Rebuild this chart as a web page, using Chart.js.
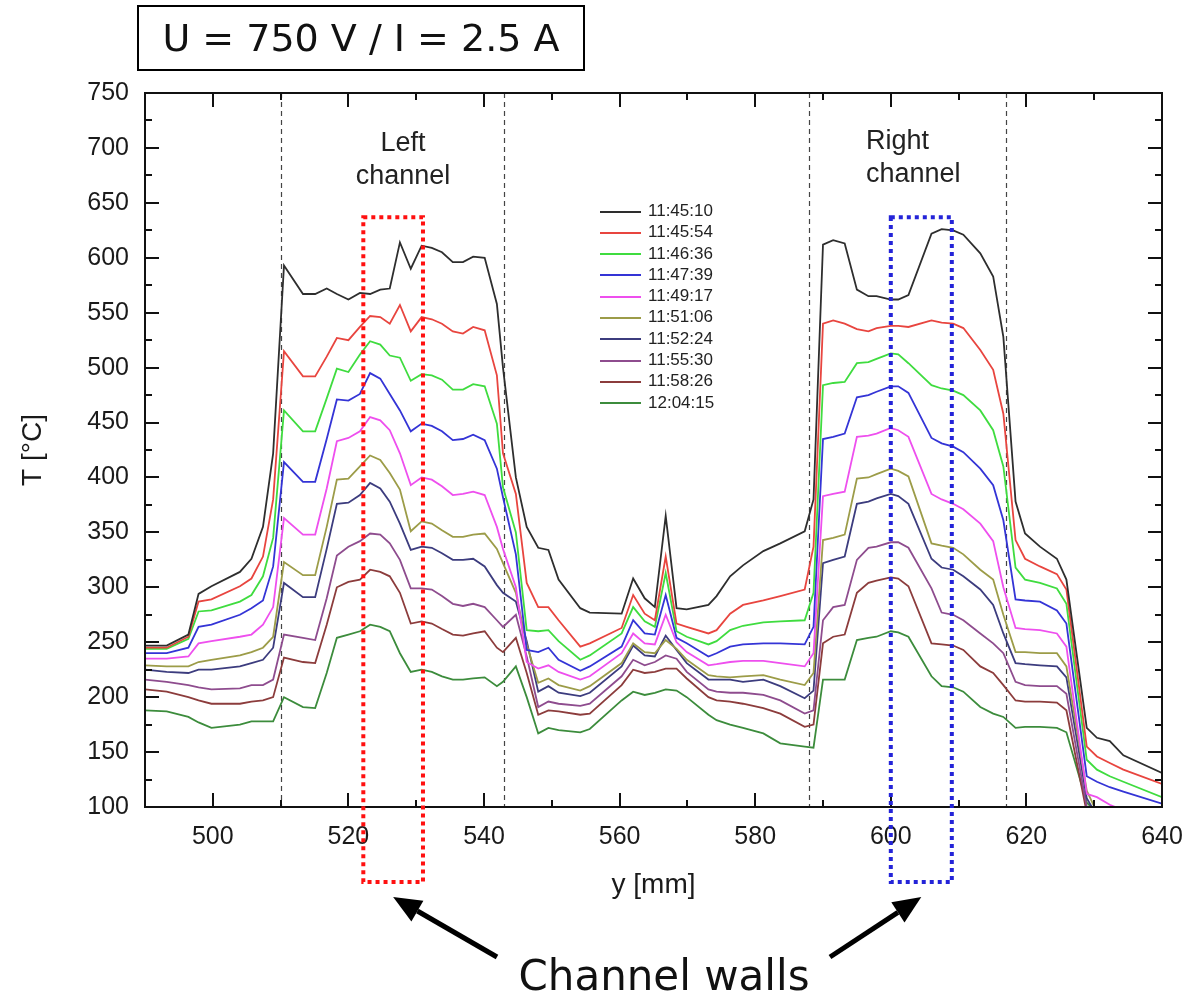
<!DOCTYPE html>
<html>
<head>
<meta charset="utf-8">
<script src="https://cdn.jsdelivr.net/npm/chart.js@4.4.1/dist/chart.umd.min.js"></script>
<style>
  body { margin: 0; background: #fff; }
  #wrap { position: relative; width: 1188px; height: 999px; }
  #box { position: absolute; left: 137px; top: 5px; width: 448px; height: 66px; box-sizing: border-box;
         border: 2px solid #000; font: 38px "DejaVu Sans", sans-serif; color: #111;
         display: flex; align-items: center; justify-content: center; white-space: pre; }
  .note { position: absolute; font: 27px "Liberation Sans", Arial, sans-serif; line-height: 33px; color: #222; }
  #legend { position: absolute; left: 600px; top: 200px; font: 17px "Liberation Sans", Arial, sans-serif; color: #222; }
  #legend div { height: 21.3px; line-height: 21.3px; white-space: nowrap; }
  #legend span.ln { display: inline-block; width: 41px; vertical-align: middle; margin-right: 7px; }
  #walls { position: absolute; left: 0; width: 1188px; top: 950px; padding-left: 140px; box-sizing: border-box;
           text-align: center; font: 42px "DejaVu Sans", sans-serif; line-height: 52px; color: #111; }
</style>
</head>
<body>
<div id="wrap">
  <canvas id="chart" width="1188" height="999"></canvas>
  <div id="box">U = 750 V / I = 2.5 A</div>
  <div class="note" style="left:303px;top:126px;width:200px;text-align:center">Left<br>channel</div>
  <div class="note" style="left:866px;top:124px">Right<br>channel</div>
  <div id="legend"></div>
  <div id="walls">Channel walls</div>
</div>
<script>
// measurement times (legend)
const times = ["11:45:10", "11:45:54", "11:46:36", "11:47:39", "11:49:17",
               "11:51:06", "11:52:24", "11:55:30", "11:58:26", "12:04:15"];

// positions along y [mm]
const positions = [490, 493.2, 496.4, 497.9, 499.8, 504, 505.7, 507.4, 508.9, 510.5,
  513.3, 515.1, 516.8, 518.3, 520, 521.7, 523.2, 524.7, 526.1, 527.6,
  529.2, 530.8, 532.3, 533.8, 535.4, 536.9, 538.4, 540.1, 541.9, 542.8,
  544.7, 546.3, 548, 549.5, 551, 554.2, 555.6, 560.3, 562, 563.7,
  565.2, 566.8, 568.4, 569.9, 573.1, 574.3, 576.3, 578.2, 581.2, 583.7,
  587.3, 588.6, 590, 591.5, 593.2, 595, 596.7, 597.9, 600, 601.1,
  602.6, 606, 607.5, 609.2, 610.7, 613.2, 615.1, 616.6, 618.4, 619.8,
  622, 624.5, 625.9, 628.9, 630.4, 632.3, 634.3, 640];

// temperatures T [°C], one array per time
const t114510 = [247, 247, 257, 294, 301, 314, 326, 355, 422, 593,
  567, 567, 572, 567, 562, 568, 567, 571, 572, 614,
  590, 611, 609, 605, 596, 596, 601, 600, 558, 500,
  400, 355, 336, 334, 307, 281, 277, 276, 308, 290,
  282, 365, 281, 280, 284, 292, 310, 320, 333, 340,
  351, 380, 612, 616, 613, 571, 565, 565, 562, 562,
  566, 622, 626, 625, 621, 604, 583, 528, 378, 349,
  337, 326, 307, 172, 163, 160, 147, 131];
const t114554 = [245, 245, 255, 287, 289, 301, 308, 328, 380, 515,
  492, 492, 510, 527, 525, 537, 547, 546, 540, 557,
  533, 546, 544, 540, 533, 531, 537, 534, 493, 422,
  385, 304, 282, 282, 270, 246, 249, 263, 293, 276,
  270, 328, 267, 264, 258, 261, 276, 284, 288, 292,
  298, 337, 540, 543, 540, 535, 533, 536, 538, 538,
  537, 543, 541, 540, 536, 516, 498, 458, 343, 326,
  319, 312, 298, 155, 146, 140, 134, 121];
const t114636 = [244, 244, 253, 278, 279, 287, 293, 310, 345, 461,
  442, 442, 472, 499, 496, 512, 524, 521, 511, 509,
  488, 494, 493, 489, 480, 480, 485, 483, 449, 391,
  350, 261, 260, 261, 251, 234, 238, 258, 282, 269,
  264, 313, 260, 255, 248, 251, 261, 265, 268, 269,
  270, 295, 484, 486, 487, 504, 505, 508, 513, 512,
  504, 484, 481, 479, 475, 461, 443, 410, 318, 307,
  304, 299, 285, 143, 134, 128, 123, 109];
const t114739 = [240, 240, 245, 264, 266, 275, 281, 288, 319, 414,
  396, 396, 435, 471, 470, 476, 495, 490, 476, 461,
  442, 449, 447, 442, 434, 435, 439, 434, 408, 382,
  330, 243, 241, 245, 234, 224, 228, 246, 270, 258,
  257, 293, 254, 249, 237, 240, 246, 248, 249, 249,
  248, 264, 435, 437, 440, 473, 475, 478, 483, 483,
  477, 436, 431, 428, 423, 408, 393, 361, 289, 288,
  287, 279, 267, 128, 123, 118, 114, 103];
const t114917 = [235, 235, 237, 249, 251, 255, 257, 266, 282, 363,
  348, 348, 390, 433, 436, 442, 455, 452, 443, 422,
  393, 400, 398, 392, 384, 385, 387, 384, 355, 335,
  300, 232, 226, 229, 223, 216, 219, 240, 258, 249,
  248, 275, 250, 241, 229, 230, 232, 233, 233, 231,
  228, 240, 383, 385, 387, 437, 438, 440, 445, 443,
  437, 385, 380, 376, 371, 358, 342, 300, 263, 262,
  261, 258, 246, 112, 109, 102, 97, 90];
const t115106 = [229, 228, 228, 232, 234, 238, 241, 245, 255, 323,
  311, 311, 355, 398, 399, 410, 420, 416, 404, 389,
  351, 360, 358, 352, 346, 346, 348, 349, 335, 322,
  295, 248, 213, 217, 211, 206, 210, 231, 249, 241,
  240, 252, 244, 234, 220, 219, 218, 219, 220, 216,
  211, 222, 343, 345, 348, 399, 400, 403, 408, 406,
  401, 340, 338, 336, 330, 316, 307, 275, 241, 241,
  240, 240, 228, 115, 95, 88, 82, 75];
const t115224 = [225, 223, 222, 225, 225, 228, 231, 234, 245, 304,
  291, 291, 335, 376, 377, 384, 395, 390, 378, 358,
  334, 337, 336, 331, 325, 325, 326, 319, 302, 295,
  287, 251, 205, 210, 204, 201, 204, 228, 247, 238,
  237, 256, 243, 231, 216, 216, 216, 214, 216, 210,
  199, 206, 322, 325, 328, 376, 378, 381, 385, 383,
  376, 326, 318, 316, 310, 298, 284, 258, 231, 230,
  229, 228, 218, 108, 92, 88, 85, 80];
const t115530 = [216, 214, 211, 209, 207, 208, 211, 211, 216, 257,
  254, 252, 290, 329, 337, 342, 349, 348, 340, 325,
  299, 299, 298, 292, 285, 283, 285, 282, 270, 264,
  275, 237, 191, 196, 194, 192, 194, 219, 234, 229,
  232, 238, 235, 223, 207, 205, 204, 204, 202, 197,
  185, 188, 270, 282, 284, 325, 336, 337, 341, 341,
  336, 299, 277, 275, 270, 258, 249, 240, 214, 211,
  210, 210, 203, 100, 88, 84, 80, 75];
const t115826 = [207, 205, 200, 197, 194, 194, 196, 197, 200, 236,
  232, 231, 266, 300, 305, 307, 316, 314, 310, 295,
  267, 269, 267, 262, 257, 256, 258, 260, 245, 241,
  254, 222, 184, 188, 187, 184, 185, 211, 225, 222,
  223, 226, 226, 217, 200, 197, 196, 194, 190, 185,
  173, 175, 249, 255, 257, 295, 304, 306, 309, 308,
  301, 249, 248, 247, 243, 228, 222, 211, 197, 196,
  196, 195, 188, 95, 88, 84, 80, 75];
const t120415 = [188, 187, 182, 177, 172, 175, 178, 178, 178, 200,
  191, 190, 222, 254, 257, 260, 266, 264, 260, 240,
  223, 225, 223, 219, 216, 216, 217, 218, 210, 214,
  228, 200, 167, 172, 170, 168, 171, 197, 205, 202,
  204, 207, 206, 200, 184, 179, 175, 172, 167, 158,
  155, 154, 216, 216, 216, 252, 254, 255, 260, 259,
  255, 219, 210, 209, 205, 191, 185, 182, 172, 173,
  173, 172, 168, 104, 95, 90, 85, 80];

const series = [t114510, t114554, t114636, t114739, t114917,
                t115106, t115224, t115530, t115826, t120415];
const colors = ["#2e2e2e", "#e8453f", "#3fdc3f", "#3434d6", "#ee4fee",
                "#9c9c48", "#3c3c7e", "#8e4c8e", "#8c3c3c", "#3c8c3c"];

// channel wall positions [mm] and marked wall regions
const wallLines = [510, 543, 588, 617];
const wallBoxes = [
  { from: 522.2, to: 531, top: 637, bottom: 31.7, color: "#ff1010" },
  { from: 600, to: 609, top: 637, bottom: 31.7, color: "#2424d8" }
];
const arrowTails = [[497, 957], [830, 957]];

const extras = {
  id: "extras",
  beforeDatasetsDraw(chart) {
    const { ctx, chartArea: a, scales: { x } } = chart;
    ctx.save();
    ctx.strokeStyle = "#444";
    ctx.lineWidth = 1.2;
    ctx.setLineDash([5, 4]);
    wallLines.forEach(v => {
      const px = Math.round(x.getPixelForValue(v)) + 0.5;
      ctx.beginPath();
      ctx.moveTo(px, a.top);
      ctx.lineTo(px, a.bottom);
      ctx.stroke();
    });
    ctx.restore();
  },
  afterDatasetsDraw(chart) {
    const { ctx, chartArea: a, scales: { x, y } } = chart;
    ctx.save();
    // frame
    ctx.strokeStyle = "#111";
    ctx.lineWidth = 2;
    ctx.strokeRect(a.left, a.top, a.right - a.left, a.bottom - a.top);
    // inward ticks on all sides
    ctx.beginPath();
    x.ticks.forEach(t => {
      const px = Math.round(x.getPixelForValue(t.value));
      const len = t.value % 20 === 0 ? 14 : 7;
      ctx.moveTo(px, a.bottom); ctx.lineTo(px, a.bottom - len);
      ctx.moveTo(px, a.top); ctx.lineTo(px, a.top + len);
    });
    y.ticks.forEach(t => {
      const py = Math.round(y.getPixelForValue(t.value));
      const len = t.value % 50 === 0 ? 14 : 7;
      ctx.moveTo(a.left, py); ctx.lineTo(a.left + len, py);
      ctx.moveTo(a.right, py); ctx.lineTo(a.right - len, py);
    });
    ctx.stroke();

    // dotted boxes marking the channel walls
    ctx.lineWidth = 4;
    ctx.setLineDash([4, 4]);
    wallBoxes.forEach(b => {
      const x0 = x.getPixelForValue(b.from), x1 = x.getPixelForValue(b.to);
      const y0 = y.getPixelForValue(b.top), y1 = y.getPixelForValue(b.bottom);
      ctx.strokeStyle = b.color;
      ctx.strokeRect(x0, y0, x1 - x0, y1 - y0);
    });
    ctx.setLineDash([]);

    // arrows from the label to the boxes
    ctx.strokeStyle = "#000";
    ctx.fillStyle = "#000";
    wallBoxes.forEach((b, i) => {
      const tx = x.getPixelForValue((b.from + b.to) / 2);
      const ty = y.getPixelForValue(b.bottom) + 15;
      const [sx, sy] = arrowTails[i];
      const ang = Math.atan2(ty - sy, tx - sx);
      const hl = 28, hw = 12;
      const bx = tx - hl * Math.cos(ang), by = ty - hl * Math.sin(ang);
      ctx.lineWidth = 5;
      ctx.beginPath();
      ctx.moveTo(sx, sy);
      ctx.lineTo(bx, by);
      ctx.stroke();
      ctx.beginPath();
      ctx.moveTo(tx, ty);
      ctx.lineTo(bx + hw * Math.sin(ang), by - hw * Math.cos(ang));
      ctx.lineTo(bx - hw * Math.sin(ang), by + hw * Math.cos(ang));
      ctx.closePath();
      ctx.fill();
    });
    ctx.restore();
  }
};

const ctx = document.getElementById("chart").getContext("2d");
const chart = new Chart(ctx, {
  type: "line",
  data: {
    datasets: series.map((vals, i) => ({
      label: times[i],
      data: positions.map((p, j) => ({ x: p, y: vals[j] })),
      borderColor: colors[i],
      backgroundColor: colors[i],
      borderWidth: 1.8,
      pointRadius: 0,
      tension: 0,
      fill: false
    }))
  },
  options: {
    responsive: false,
    animation: false,
    layout: { padding: { top: 93, right: 26, bottom: 0, left: 0 } },
    plugins: { legend: { display: false }, tooltip: { enabled: false } },
    scales: {
      x: {
        type: "linear",
        min: 490,
        max: 640,
        grid: { display: false },
        border: { display: false },
        ticks: {
          stepSize: 10,
          autoSkip: false,
          maxRotation: 0,
          padding: 7,
          color: "#1a1a1a",
          font: { family: "'Liberation Sans', Arial, sans-serif", size: 25 },
          callback: v => (v % 20 === 0 ? String(v) : "")
        },
        title: {
          display: true,
          text: "y [mm]",
          color: "#1a1a1a",
          font: { family: "'Liberation Sans', Arial, sans-serif", size: 28 },
          padding: { top: 0, bottom: 97 }
        },
        afterFit: s => { s.height = 192; s.paddingLeft = 0; s.paddingRight = 0; }
      },
      y: {
        min: 100,
        max: 750,
        grid: { display: false },
        border: { display: false },
        ticks: {
          stepSize: 25,
          autoSkip: false,
          padding: 8,
          color: "#1a1a1a",
          font: { family: "'Liberation Sans', Arial, sans-serif", size: 25 },
          callback: v => (v % 50 === 0 ? String(v) : "")
        },
        title: {
          display: true,
          text: "T [°C]",
          color: "#1a1a1a",
          font: { family: "'Liberation Sans', Arial, sans-serif", size: 28 },
          padding: { top: 16, bottom: 0 }
        },
        afterFit: s => { s.width = 145; s.paddingTop = 0; s.paddingBottom = 0; }
      }
    }
  },
  plugins: [extras]
});

// legend inside the plot, built from the datasets
const legend = document.getElementById("legend");
chart.data.datasets.forEach(ds => {
  const row = document.createElement("div");
  const ln = document.createElement("span");
  ln.className = "ln";
  ln.style.borderTop = "2px solid " + ds.borderColor;
  row.appendChild(ln);
  row.appendChild(document.createTextNode(ds.label));
  legend.appendChild(row);
});
</script>
</body>
</html>
